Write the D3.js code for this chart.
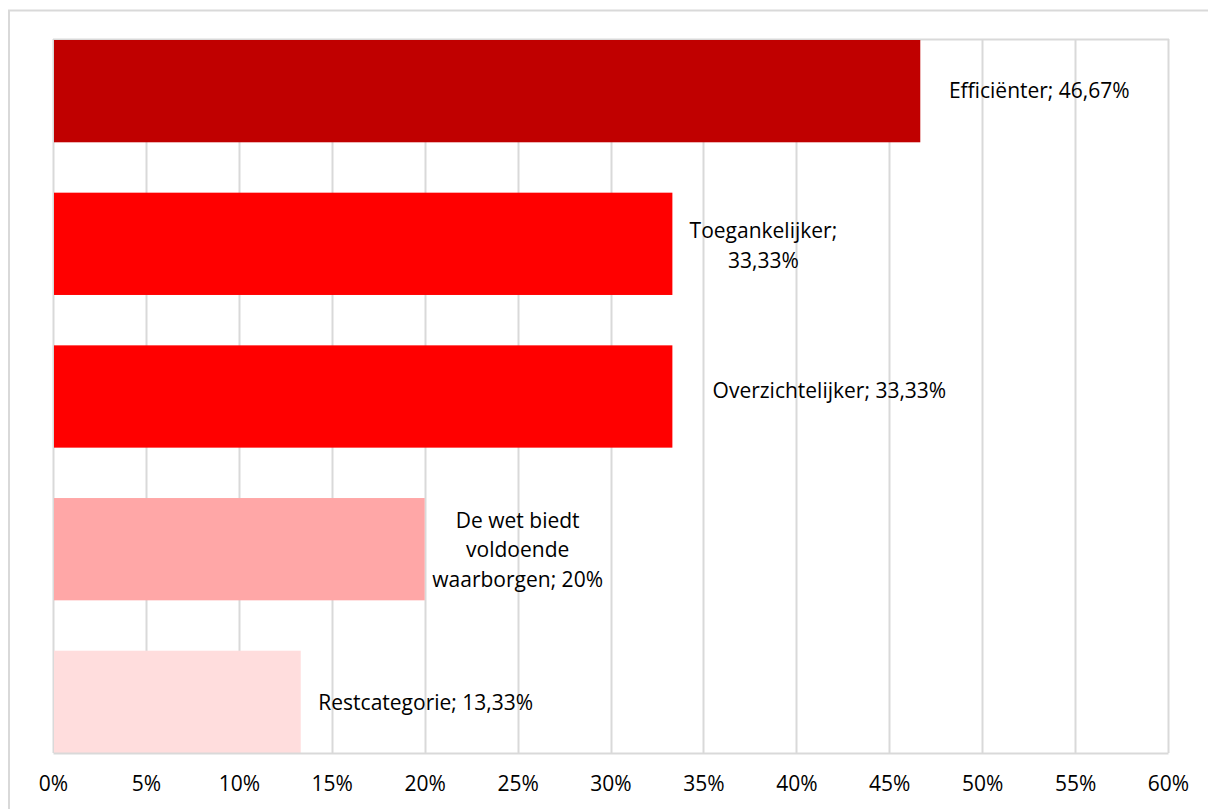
<!DOCTYPE html>
<html>
<head>
<meta charset="utf-8">
<script src="https://cdn.jsdelivr.net/npm/d3@7"></script>
<style>
  html, body { margin: 0; padding: 0; background: #fff; }
  svg { display: block; }
  text { font-family: "Open Sans", "Noto Sans", sans-serif; fill: #000; }
</style>
</head>
<body>
<svg id="chart" width="1208" height="809"></svg>
<script>
// ---- data ----
const categories = ["Efficiënter", "Toegankelijker", "Overzichtelijker", "De wet biedt voldoende waarborgen", "Restcategorie"];
const values = [46.67, 33.33, 33.33, 20, 13.33];
const valueLabels = ["46,67%", "33,33%", "33,33%", "20%", "13,33%"];
const labelLines = [
  ["Efficiënter; 46,67%"],
  ["Toegankelijker;", "33,33%"],
  ["Overzichtelijker; 33,33%"],
  ["De wet biedt", "voldoende", "waarborgen; 20%"],
  ["Restcategorie; 13,33%"]
];
const barColors = ["#C00000", "#FF0000", "#FF0000", "#FFA7A7", "#FFDDDD"];
const tickValues = [0, 5, 10, 15, 20, 25, 30, 35, 40, 45, 50, 55, 60];
const tickLabels = ["0%", "5%", "10%", "15%", "20%", "25%", "30%", "35%", "40%", "45%", "50%", "55%", "60%"];
// label placement (style): horizontal offset of label centre past bar end, vertical nudge
const labelDx = [119, 91, 157, 93, 125];
const labelDy = [0, 2, -6, 1, 1];

// ---- layout ----
const svg = d3.select("#chart");
const plot = { left: 53, right: 1168, top: 39, bottom: 753 };
const gridColor = "#D9D9D9";
const fontSize = "21px";

// outer chart border
svg.append("rect")
  .attr("x", 9).attr("y", 10.5)
  .attr("width", 1230).attr("height", 830)
  .attr("fill", "none").attr("stroke", gridColor).attr("stroke-width", 2);

const x = d3.scaleLinear().domain([0, 60]).range([plot.left, plot.right]);
const y = d3.scaleBand().domain(categories).range([plot.top + 1, plot.bottom]).paddingInner(0.33).paddingOuter(0);

// gridlines
svg.append("g").selectAll("line").data(tickValues).join("line")
  .attr("x1", d => Math.round(x(d)) + 0.5).attr("x2", d => Math.round(x(d)) + 0.5)
  .attr("y1", plot.top).attr("y2", plot.bottom)
  .attr("stroke", gridColor).attr("stroke-width", 2);
// top border of plot
svg.append("line")
  .attr("x1", plot.left).attr("x2", plot.right + 1)
  .attr("y1", plot.top + 0.5).attr("y2", plot.top + 0.5)
  .attr("stroke", gridColor).attr("stroke-width", 2);

// bars
svg.append("g").selectAll("rect").data(categories).join("rect")
  .attr("x", x(0) + 1)
  .attr("y", d => y(d))
  .attr("width", (d, i) => x(values[i]) - x(0) - 1)
  .attr("height", y.bandwidth())
  .attr("fill", (d, i) => barColors[i]);

// x axis
const xAxis = d3.axisBottom(x).tickValues(tickValues)
  .tickFormat((d, i) => tickLabels[i]).tickSize(0).tickPadding(23);
const gx = svg.append("g").attr("transform", `translate(0,${plot.bottom})`).call(xAxis);
gx.select(".domain").attr("stroke", gridColor).attr("stroke-width", 2);
gx.selectAll("text").style("font-family", '"Open Sans", sans-serif').style("font-size", fontSize).attr("fill", "#000");

// data labels
const lineH = 29.5;
const lbl = svg.append("g").selectAll("text").data(categories).join("text")
  .attr("text-anchor", "middle")
  .style("font-size", fontSize)
  .attr("transform", (d, i) => {
    const n = labelLines[i].length;
    const cy = y(d) + y.bandwidth() / 2 + labelDy[i] - (n - 1) * lineH / 2 + 7;
    return `translate(${x(values[i]) + labelDx[i]},${cy})`;
  });
lbl.each(function(d, i) {
  d3.select(this).selectAll("tspan").data(labelLines[i]).join("tspan")
    .attr("x", 0).attr("dy", (t, j) => j === 0 ? 0 : lineH).text(t => t);
});
</script>
</body>
</html>
